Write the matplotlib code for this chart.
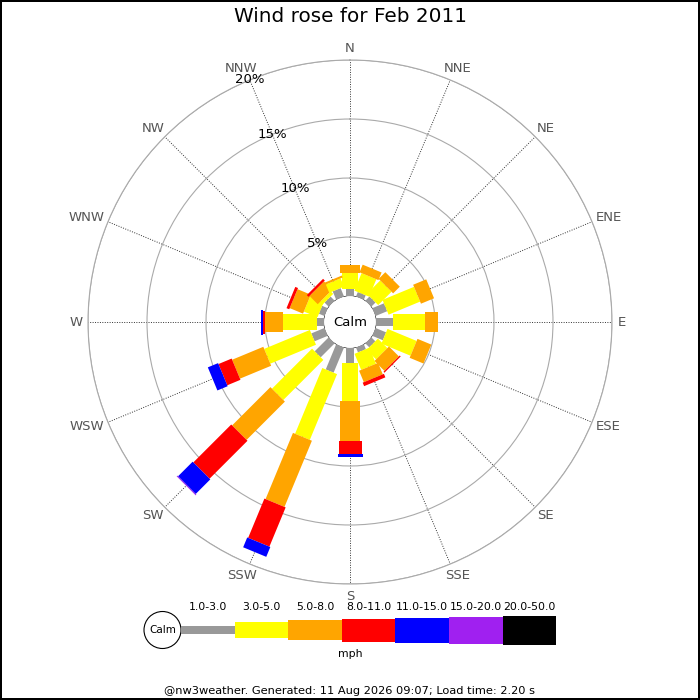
import numpy as np
import matplotlib
matplotlib.use("Agg")
import matplotlib.pyplot as plt
from matplotlib.patches import Rectangle, Circle

# data: % of time per direction, one list per speed class (mph)
directions = ["N", "NNE", "NE", "ENE", "E", "ESE", "SE", "SSE",
              "S", "SSW", "SW", "WSW", "W", "WNW", "NW", "NNW"]
speed_bins = ["1.0-3.0", "3.0-5.0", "5.0-8.0", "8.0-11.0",
              "11.0-15.0", "15.0-20.0", "20.0-50.0"]
spd_1_3 = [0.63, 0.40, 0.50, 1.06, 1.41, 0.96, 0.47, 0.44,
           1.27, 2.30, 1.67, 1.20, 0.62, 0.50, 0.49, 0.76]
spd_3_5 = [1.32, 1.60, 1.60, 2.89, 2.74, 2.67, 1.13, 1.47,
           3.22, 6.03, 4.80, 4.19, 2.83, 1.25, 0.31, 0.76]
spd_5_8 = [0.65, 0.70, 0.80, 1.20, 1.13, 1.27, 1.19, 1.05,
           3.39, 6.07, 4.59, 2.86, 1.55, 1.22, 0.99, 0.18]
spd_8_11 = [0, 0, 0, 0, 0, 0, 0.11, 0.32,
            1.10, 3.60, 4.54, 1.21, 0.20, 0.25, 0.21, 0]
spd_11_15 = [0, 0, 0, 0, 0, 0, 0, 0,
             0.26, 0.90, 1.75, 0.94, 0.16, 0, 0, 0]
spd_15_20 = [0, 0, 0, 0, 0, 0, 0, 0,
             0, 0, 0.08, 0, 0, 0, 0, 0]
spd_20_50 = [0] * 16
pct_ticks = [5, 10, 15, 20]

series = [spd_1_3, spd_3_5, spd_5_8, spd_8_11, spd_11_15, spd_15_20, spd_20_50]
colors = ["#999999", "#ffff00", "#ffa500", "#ff0000", "#0000ff", "#a020f0", "#000000"]
bar_px = [8.5, 16, 20.5, 23, 25, 27, 29]   # bar thickness in pixels per class

RMAX = 20.0
R0 = 2.2          # calm circle radius, in % units
px_per_pct = 262 / (RMAX + R0)

fig = plt.figure(figsize=(7, 7), dpi=100, edgecolor="black", linewidth=1.5)
rect = [88 / 700, 116 / 700, 524 / 700, 524 / 700]

# polar axes for the grid and labels
ax = fig.add_axes(rect, projection="polar")
ax.set_theta_zero_location("N")
ax.set_theta_direction(-1)
ax.set_ylim(0, RMAX)
ax.set_rorigin(-R0)
angles = np.arange(16) * 22.5
ax.set_thetagrids(angles, [""] * 16)
ax.set_rgrids(pct_ticks, labels=[""] * len(pct_ticks))
ax.xaxis.grid(True, color="#333333", linestyle=(0, (1, 1.5)), linewidth=0.7)
ax.yaxis.grid(True, color="#aaaaaa", linestyle="-", linewidth=0.8)
ax.spines["polar"].set_color("#aaaaaa")
ax.spines["polar"].set_linewidth(0.8)
for p in pct_ticks:
    ax.text(np.deg2rad(337.5), p, f"{p}%", ha="center", va="center",
            fontsize=9.5, color="black", zorder=5)

# compass labels: pushed out so their box sits just outside the rim
renderer = fig.canvas.get_renderer()
gap = 5.5
for a, lab in zip(angles, directions):
    t = ax.text(0, 0, lab, fontsize=9.5, color="#555555")
    bb = t.get_window_extent(renderer)
    t.remove()
    c = np.sin(np.deg2rad(a))
    s = np.cos(np.deg2rad(a))
    ax.annotate(lab, xy=(np.deg2rad(a), RMAX),
                xytext=((gap + bb.width / 2) * c, (gap + bb.height / 2) * s),
                textcoords="offset pixels", ha="center", va="center",
                fontsize=9.5, color="#555555", annotation_clip=False)

# overlay cartesian axes for the rectangular bars
bx = fig.add_axes(rect)
lim = RMAX + R0
bx.set_xlim(-lim, lim)
bx.set_ylim(-lim, lim)
bx.axis("off")
bx.patch.set_alpha(0)

for i, d in enumerate(directions):
    rot = 90 - i * 22.5
    start = R0
    for vals, c, w in zip(series, colors, bar_px):
        v = vals[i]
        if v <= 0:
            continue
        wd = w / px_per_pct
        bx.add_patch(Rectangle((start, -wd / 2), v, wd, angle=rot,
                               rotation_point=(0, 0), facecolor=c,
                               edgecolor="none", zorder=3))
        start += v

bx.add_patch(Circle((0, 0), R0, facecolor="white", edgecolor="none", zorder=4))
bx.text(0, 0, "Calm", ha="center", va="center", fontsize=9.5, zorder=5)

fig.suptitle("Wind rose for Feb 2011", y=1 - 17 / 700, va="center", fontsize=14.4)

# legend along the bottom, laid out in pixels
lx = fig.add_axes([0, 0, 1, 1])
lx.set_xlim(0, 700)
lx.set_ylim(700, 0)
lx.axis("off")
lx.patch.set_alpha(0)
lx.add_patch(Circle((162.5, 630), 18.5, facecolor="white", edgecolor="black", linewidth=0.8))
lx.text(162.5, 630, "Calm", ha="center", va="center", fontsize=7.5)
seg_w = 53.6
x0 = 181
for k, (lab, c, w) in enumerate(zip(speed_bins, colors, bar_px)):
    xs = x0 + k * seg_w
    lx.add_patch(Rectangle((xs, 630 - w / 2), seg_w, w, facecolor=c, edgecolor="none"))
    lx.text(xs + seg_w / 2, 607, lab, ha="center", va="center", fontsize=7.8)
lx.text(350.5, 654, "mph", ha="center", va="center", fontsize=7.8)
lx.text(350, 691, "@nw3weather. Generated: 11 Aug 2026 09:07; Load time: 2.20 s",
        ha="center", va="center", fontsize=8.2)

fig.savefig("out.png", dpi=100)
